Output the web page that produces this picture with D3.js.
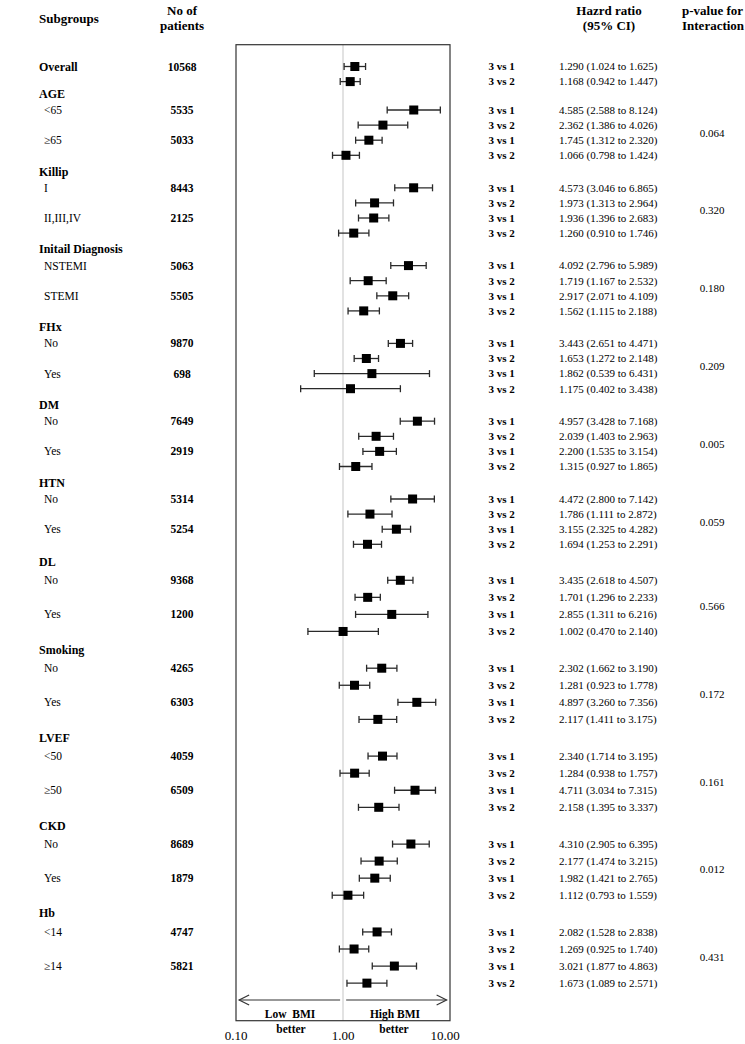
<!DOCTYPE html>
<html><head><meta charset="utf-8">
<script src="https://cdn.jsdelivr.net/npm/d3@7"></script>
<style>
body{margin:0;background:#fff}
svg{display:block}
text{font-family:"Liberation Serif","Times New Roman",serif;fill:#000}
</style>
</head><body>
<svg id="chart" width="745" height="1044"></svg>
<script>
// ---------------- data ----------------
const overallLabel = "Overall";
const overallCount = 10568;
const groupNames = ["AGE","Killip","Initail Diagnosis","FHx","DM","HTN","DL","Smoking","LVEF","CKD","Hb"];
const subgroupLabels = [["<65","≥65"],["I","II,III,IV"],["NSTEMI","STEMI"],["No","Yes"],["No","Yes"],
  ["No","Yes"],["No","Yes"],["No","Yes"],["<50","≥50"],["No","Yes"],["<14","≥14"]];
const patientCounts = [[5535,5033],[8443,2125],[5063,5505],[9870,698],[7649,2919],
  [5314,5254],[9368,1200],[4265,6303],[4059,6509],[8689,1879],[4747,5821]];
const pValues = ["0.064","0.320","0.180","0.209","0.005","0.059","0.566","0.172","0.161","0.012","0.431"];
const comparisons = ["3 vs 1","3 vs 2"];
// one entry per row: Overall (2 rows), then 4 rows per group
const hr = [1.290,1.168,
  4.585,2.362,1.745,1.066,
  4.573,1.973,1.936,1.260,
  4.092,1.719,2.917,1.562,
  3.443,1.653,1.862,1.175,
  4.957,2.039,2.200,1.315,
  4.472,1.786,3.155,1.694,
  3.435,1.701,2.855,1.002,
  2.302,1.281,4.897,2.117,
  2.340,1.284,4.711,2.158,
  4.310,2.177,1.982,1.112,
  2.082,1.269,3.021,1.673];
const lower = [1.024,0.942,
  2.588,1.386,1.312,0.798,
  3.046,1.313,1.396,0.910,
  2.796,1.167,2.071,1.115,
  2.651,1.272,0.539,0.402,
  3.428,1.403,1.535,0.927,
  2.800,1.111,2.325,1.253,
  2.618,1.296,1.311,0.470,
  1.662,0.923,3.260,1.411,
  1.714,0.938,3.034,1.395,
  2.905,1.474,1.421,0.793,
  1.528,0.925,1.877,1.089];
const upper = [1.625,1.447,
  8.124,4.026,2.320,1.424,
  6.865,2.964,2.683,1.746,
  5.989,2.532,4.109,2.188,
  4.471,2.148,6.431,3.438,
  7.168,2.963,3.154,1.865,
  7.142,2.872,4.282,2.291,
  4.507,2.233,6.216,2.140,
  3.190,1.778,7.356,3.175,
  3.195,1.757,7.315,3.337,
  6.395,3.215,2.765,1.559,
  2.838,1.740,4.863,2.571];
const tickValues = [0.1, 1, 10];
const tickLabels = ["0.10","1.00","10.00"];

// ---------------- layout ----------------
const svg = d3.select("#chart");
const x = d3.scaleLog().domain([0.1, 10]).range([236, 450]);
// the source image is slightly stretched in its lower part
const stretch = d3.scaleLinear().domain([0, 550, 1100]).range([0, 550, 550 + 550 * 1.13]);
const rowStep = 15.1, groupStep = 77.8, firstGroupY = 110;
function rowY(r) {
  if (r < 2) return stretch(66.5 + r * rowStep);
  const g = Math.floor((r - 2) / 4), k = (r - 2) % 4;
  return stretch(firstGroupY + g * groupStep + k * rowStep);
}
function groupRowLogical(g, k) { return firstGroupY + g * groupStep + k * rowStep; }

const boxTop = 44.7, boxBottom = 1020.7;

// ---------------- headers ----------------
function txt(xp, yp, s, opts = {}) {
  return svg.append("text").attr("x", xp).attr("y", yp).attr("dy", "0.35em")
    .attr("font-size", opts.size || 11)
    .attr("font-weight", opts.bold ? "bold" : "normal")
    .attr("text-anchor", opts.anchor || "start")
    .text(s);
}
txt(39, 18.5, "Subgroups", {size: 13, bold: true});
txt(182, 10, "No of", {size: 13, bold: true, anchor: "middle"});
txt(182, 25, "patients", {size: 13, bold: true, anchor: "middle"});
txt(609, 10, "Hazrd ratio", {size: 13, bold: true, anchor: "middle"});
txt(609, 25, "(95% CI)", {size: 13, bold: true, anchor: "middle"});
txt(682, 10, "p-value for", {size: 13, bold: true});
txt(682, 25, "Interaction", {size: 13, bold: true});

// ---------------- box & reference ----------------
svg.append("line").attr("x1", x(1)).attr("x2", x(1)).attr("y1", boxTop).attr("y2", boxBottom)
  .attr("stroke", "#d9d9d9").attr("stroke-width", 1.5);
svg.append("rect").attr("x", x.range()[0]).attr("y", boxTop)
  .attr("width", x.range()[1] - x.range()[0]).attr("height", boxBottom - boxTop)
  .attr("fill", "none").attr("stroke", "#333").attr("stroke-width", 1.2);

// ---------------- left labels ----------------
txt(39, rowY(0), overallLabel, {size: 12, bold: true});
txt(182, rowY(0), overallCount, {size: 11.5, bold: true, anchor: "middle"});
groupNames.forEach((name, g) => {
  txt(39, stretch(groupRowLogical(g, 0) - 16.5), name, {size: 12, bold: true});
  subgroupLabels[g].forEach((lab, j) => {
    const yy = stretch(groupRowLogical(g, j * 2));
    txt(44, yy, lab, {size: 11.5});
    txt(182, yy, patientCounts[g][j], {size: 11.5, bold: true, anchor: "middle"});
  });
  txt(712, stretch(groupRowLogical(g, 1.5)), pValues[g], {size: 11, anchor: "middle"});
});

// ---------------- rows: markers and text ----------------
const fmt = d3.format(".3f");
const rows = hr.map((v, i) => ({i, hr: v, lo: lower[i], hi: upper[i], cmp: comparisons[i % 2]}));
const rg = svg.append("g").selectAll("g").data(rows).join("g");
rg.append("line").attr("x1", d => x(d.lo)).attr("x2", d => x(d.hi))
  .attr("y1", d => rowY(d.i)).attr("y2", d => rowY(d.i))
  .attr("stroke", "#2a2a2a").attr("stroke-width", 1.3);
rg.append("line").attr("x1", d => x(d.lo)).attr("x2", d => x(d.lo))
  .attr("y1", d => rowY(d.i) - 3.5).attr("y2", d => rowY(d.i) + 3.5)
  .attr("stroke", "#2a2a2a").attr("stroke-width", 1.3);
rg.append("line").attr("x1", d => x(d.hi)).attr("x2", d => x(d.hi))
  .attr("y1", d => rowY(d.i) - 3.5).attr("y2", d => rowY(d.i) + 3.5)
  .attr("stroke", "#2a2a2a").attr("stroke-width", 1.3);
rg.append("rect").attr("x", d => x(d.hr) - 4.5).attr("y", d => rowY(d.i) - 4.5)
  .attr("width", 9).attr("height", 9).attr("fill", "#000");
rg.append("text").attr("x", 488.5).attr("y", d => rowY(d.i)).attr("dy", "0.35em")
  .attr("font-size", 11).attr("font-weight", "bold").text(d => d.cmp);
rg.append("text").attr("x", 559).attr("y", d => rowY(d.i)).attr("dy", "0.35em")
  .attr("font-size", 11).text(d => `${fmt(d.hr)} (${fmt(d.lo)} to ${fmt(d.hi)})`);

// ---------------- arrows & direction labels ----------------
const arrowY = 1000;
function arrow(xFrom, xTo) {
  const dir = Math.sign(xTo - xFrom);
  svg.append("line").attr("x1", xFrom).attr("x2", xTo).attr("y1", arrowY).attr("y2", arrowY)
    .attr("stroke", "#333").attr("stroke-width", 1.2);
  svg.append("path").attr("d", `M${xTo - dir * 10},${arrowY - 5}L${xTo},${arrowY}L${xTo - dir * 10},${arrowY + 5}`)
    .attr("fill", "none").attr("stroke", "#333").attr("stroke-width", 1.2);
}
arrow(x(0.95) - 0.5, x(0.107));
arrow(x(1.07), x(9.3));
txt(290, 1014, "Low  BMI", {size: 11.5, bold: true, anchor: "middle"}).attr("xml:space", "preserve");
txt(291, 1029, "better", {size: 11.5, bold: true, anchor: "middle"});
txt(395, 1014, "High BMI", {size: 11.5, bold: true, anchor: "middle"});
txt(394, 1029, "better", {size: 11.5, bold: true, anchor: "middle"});

// ---------------- axis labels ----------------
svg.append("g").selectAll("text").data(tickValues).join("text")
  .attr("x", (d, i) => x(d) - (i === tickValues.length - 1 ? 5 : 0))
  .attr("y", 1035).attr("dy", "0.35em").attr("text-anchor", "middle")
  .attr("font-size", 13).text((d, i) => tickLabels[i]);
</script>
</body></html>
